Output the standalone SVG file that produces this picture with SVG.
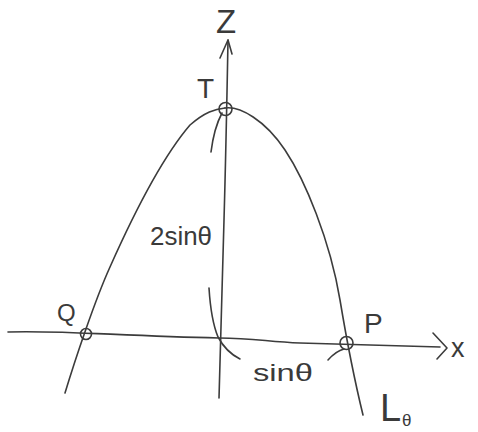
<svg xmlns="http://www.w3.org/2000/svg" width="478" height="432" viewBox="0 0 478 432">
<style>
.ln{fill:none;stroke:#3c3c3c;stroke-width:1.6;stroke-linecap:round;stroke-linejoin:round}
.pt{fill:none;stroke:#3c3c3c;stroke-width:1.6}
.tx{font-family:"Liberation Sans","DejaVu Sans",sans-serif;fill:#3a3a3a}
</style>
<rect width="478" height="432" fill="#ffffff"/>
<g id="connectors">
  <path class="ln" d="M228,40 Q226,150 224,220 Q222,300 219,398"/>
  <path class="ln" d="M220,58 L228,40 L232,54"/>
  <path class="ln" d="M8,332 C60,330 120,336 219,338 C255,338 268,342 300,343 L440,347"/>
  <path class="ln" d="M433,333 L447,348 L437,359"/>
  <path class="ln" d="M65,393 C75,360 95,300 110,267 C130,222 160,160 190,125 C205,112 215,109 225,108"/>
  <path class="ln" d="M225,108 C240,106 265,120 285,150 C305,180 330,240 340,300 C345,330 352,370 363,415"/>
  <path class="ln" d="M222,113 Q214,128 211,152"/>
  <path class="ln" d="M209,288 Q211,320 218,337 Q226,352 240,359"/>
  <path class="ln" d="M328,360 Q336,351 344,349"/>
</g>
<g id="T"><circle class="pt" cx="225.5" cy="109" r="6.5"/><text class="tx" x="197" y="98" font-size="28">T</text></g>
<g id="Q"><circle class="pt" cx="86" cy="334" r="5.5"/><text class="tx" x="57" y="321" font-size="24">Q</text></g>
<g id="P"><circle class="pt" cx="346.5" cy="343" r="6.5"/><text class="tx" x="364" y="333" font-size="28">P</text></g>
<g id="labels">
  <text class="tx" x="216" y="33" font-size="33">Z</text>
  <text class="tx" x="451" y="357" font-size="27">x</text>
  <text class="tx" x="150" y="245" font-size="26" textLength="62" lengthAdjust="spacingAndGlyphs">2sinθ</text>
  <text class="tx" x="253" y="381" font-size="24" textLength="60" lengthAdjust="spacingAndGlyphs">sinθ</text>
  <text class="tx" x="380" y="421" font-size="38">L</text>
  <text class="tx" x="402" y="426" font-size="17">θ</text>
</g>
</svg>
